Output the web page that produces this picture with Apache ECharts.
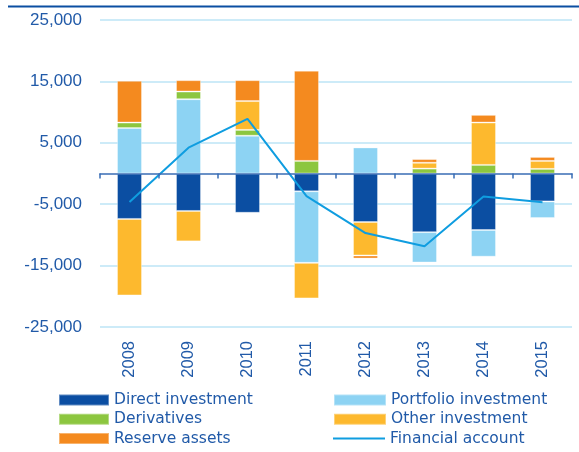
<!DOCTYPE html>
<html>
<head>
<meta charset="utf-8">
<script src="https://cdn.jsdelivr.net/npm/echarts@6/dist/echarts.min.js"></script>
<style>
  html, body { margin: 0; padding: 0; background: #fff; }
  #chart { width: 579px; height: 452px; }
</style>
</head>
<body>
<div id="chart"></div>
<script>
// years and stacked components
const years = ['2008', '2009', '2010', '2011', '2012', '2013', '2014', '2015'];
const directInvestment = [-7400, -6100, -6400, -2900, -7900, -9550, -9200, -4550];
const portfolioInvestment = [7400, 12100, 6150, -11650, 4250, -4950, -4350, -2700];
const derivatives = [900, 1250, 950, 2050, 0, 800, 1400, 750];
const otherInvestment = [-12450, -4950, 4700, -5800, -5450, 950, 6900, 1300];
const reserveAssets = [6800, 1850, 3400, 14700, -500, 600, 1250, 650];
const financialAccount = [-4650, 4200, 8900, -3700, -9700, -11850, -3750, -4700];

const textBlue = '#215aa8';
const font = 'Liberation Sans, Arial, sans-serif';
const legendFont = 'DejaVu Sans, sans-serif';

const fmt = v => {
  const s = Math.abs(v).toString().replace(/\B(?=(\d{3})+(?!\d))/g, ',');
  return (v < 0 ? '-' : '') + s;
};

const barSeries = (name, data, color) => ({
  name: name,
  type: 'bar',
  stack: 'total',
  data: data,
  barWidth: 25,
  itemStyle: { color: color, borderColor: 'rgba(255,255,255,0.35)', borderWidth: 1 },
  emphasis: { disabled: true }
});

// one legend per entry so the two columns line up like the original
const legendItem = (name, left, centerY, w, h, icon) => ({
  orient: 'vertical',
  left: left,
  top: centerY - 9,
  padding: 0,
  itemWidth: w,
  itemHeight: h,
  icon: icon,
  selectedMode: false,
  textStyle: { color: textBlue, fontSize: 15.5, fontFamily: legendFont, lineHeight: 18 },
  data: [name]
});

const chart = echarts.init(document.getElementById('chart'));
chart.setOption({
  animation: false,
  textStyle: { fontFamily: font },
  graphic: [{
    type: 'line',
    shape: { x1: 8, y1: 6.5, x2: 579, y2: 6.5 },
    style: { stroke: '#0b4ea2', lineWidth: 2 }
  }],
  grid: { left: 100, right: 7, top: 20, height: 307 },
  legend: [
    legendItem('Direct investment', 58, 400, 50, 11, 'rect'),
    legendItem('Derivatives', 58, 419.3, 50, 11, 'rect'),
    legendItem('Reserve assets', 58, 438.6, 50, 11, 'rect'),
    legendItem('Portfolio investment', 333, 400, 52, 11, 'rect'),
    legendItem('Other investment', 333, 419.3, 52, 11, 'rect'),
    legendItem('Financial account', 333, 438.6, 52, 2, 'rect')
  ],
  xAxis: [{
    type: 'category',
    data: years,
    axisLine: { onZero: true, lineStyle: { color: '#3a6db5', width: 1.5 } },
    axisTick: { show: true, length: 5, lineStyle: { color: '#3a6db5', width: 1.5 } },
    axisLabel: { show: false },
    splitLine: { show: false },
    z: 10
  }, {
    type: 'category',
    data: years,
    position: 'bottom',
    axisLine: { show: false, onZero: false },
    axisTick: { show: false },
    axisLabel: { rotate: 90, margin: 14, color: textBlue, fontSize: 16.5, fontFamily: font }
  }],
  yAxis: {
    type: 'value',
    min: -25000,
    max: 25000,
    interval: 10000,
    axisLine: { show: false },
    axisTick: { show: false },
    axisLabel: { color: textBlue, fontSize: 17, fontFamily: font, margin: 18, formatter: fmt },
    splitLine: { lineStyle: { color: '#bde4f6', width: 1.5 } }
  },
  series: [
    barSeries('Direct investment', directInvestment, '#0b4ea2'),
    barSeries('Portfolio investment', portfolioInvestment, '#8dd3f3'),
    barSeries('Derivatives', derivatives, '#8cc63f'),
    barSeries('Other investment', otherInvestment, '#fdb92e'),
    barSeries('Reserve assets', reserveAssets, '#f48a1f'),
    {
      name: 'Financial account',
      type: 'line',
      data: financialAccount,
      symbol: 'none',
      lineStyle: { color: '#0f9de0', width: 2 },
      itemStyle: { color: '#0f9de0' },
      z: 5
    }
  ]
});
</script>
</body>
</html>
